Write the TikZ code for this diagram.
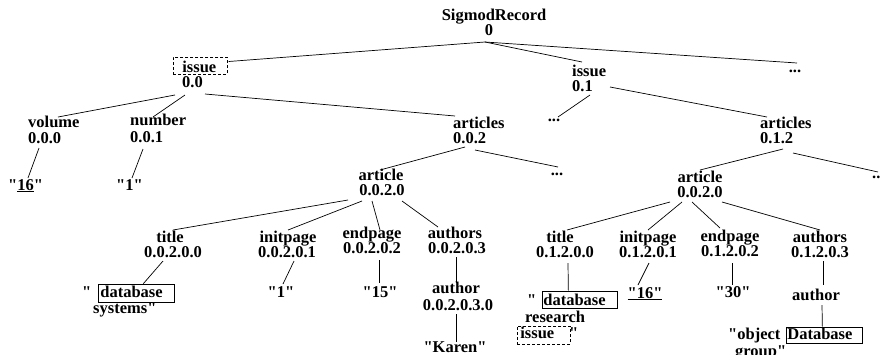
\documentclass[tikz,border=0pt]{standalone}
\usepackage{fontspec}
\setmainfont{Liberation Serif}[Ligatures=TeXOff]
\usetikzlibrary{calc}
\begin{document}
\begin{tikzpicture}[x=1pt,y=-1pt,
  font=\fontsize{16.5}{16}\selectfont\bfseries,
  lbl/.style={inner sep=0pt, anchor=base},
  lblw/.style={inner sep=0pt, anchor=base west},
  edge/.style={draw, line width=0.7pt},
  boxed/.style={draw, line width=0.7pt, anchor=base west},
  dbox/.style={boxed, dash pattern=on 3pt off 2pt}]
\useasboundingbox (0,0) rectangle (880,354);
% level 0
\node[lbl] (root1) at (494,20) {SigmodRecord};
\node[lbl] (root2) at (489,35) {0};
% level 1
\node[dbox, inner xsep=9pt, inner ysep=2pt, text height=13pt, text depth=0pt] (i00a) at (173,72) {\makebox[36pt][l]{issue}};
\node[lblw] (i00b) at (182,87) {0.0};
\node[lblw] (i01a) at (572,76) {issue};
\node[lblw] (i01b) at (572,91) {0.1};
\node[lbl] (dtop) at (795,72) {...};
% level 2
\node[lblw] (vol1) at (28,127) {volume};
\node[lblw] (vol2) at (28,143) {0.0.0};
\node[lblw] (num1) at (130,125) {number};
\node[lblw] (num2) at (130,142) {0.0.1};
\node[lblw] (a002a) at (453,128) {articles};
\node[lblw] (a002b) at (453,143) {0.0.2};
\node[lbl] (d01) at (554,121) {...};
\node[lblw] (a012a) at (760,128) {articles};
\node[lblw] (a012b) at (760,143) {0.1.2};
% level 3
\node[lblw] (v16) at (8,190) {"\underline{16}"};
\node[lbl] (n1) at (129.5,190) {"1"};
\node[lbl] (art1a) at (381,180) {article};
\node[lbl] (art1b) at (382,195) {0.0.2.0};
\node[lbl] (d02) at (557,175) {...};
\node[lbl] (art2a) at (700,182) {article};
\node[lbl] (art2b) at (700,197) {0.0.2.0};
\node[lblw] (d03) at (872,178) {...};
% level 4 left
\node[lbl] (t1a) at (170,242) {title};
\node[lbl] (t1b) at (173,257) {0.0.2.0.0};
\node[lbl] (ip1a) at (288,242) {initpage};
\node[lbl] (ip1b) at (287,257) {0.0.2.0.1};
\node[lbl] (ep1a) at (372,238) {endpage};
\node[lbl] (ep1b) at (372,253) {0.0.2.0.2};
\node[lbl] (au1a) at (455,238) {authors};
\node[lbl] (au1b) at (457,253) {0.0.2.0.3};
% level 5 left
\node[lblw] (q1) at (82,297) {"};
\node[boxed, inner xsep=2pt, inner ysep=2pt, text height=11pt, text depth=3pt] (db1box) at (98,297) {\makebox[72pt][l]{database}};
\node[lblw] (sys1) at (93,313) {systems"};
\node[lbl] (v1) at (281,297) {"1"};
\node[lbl] (v15) at (380,297) {"15"};
\node[lbl] (aut1a) at (456,293) {author};
\node[lbl] (aut1b) at (458,310) {0.0.2.0.3.0};
\node[lbl] (karen) at (455,352) {"Karen"};
% level 4 right
\node[lbl] (t2a) at (560,242) {title};
\node[lbl] (t2b) at (565,257) {0.1.2.0.0};
\node[lbl] (ip2a) at (648,242) {initpage};
\node[lbl] (ip2b) at (648,257) {0.1.2.0.1};
\node[lbl] (ep2a) at (730,241) {endpage};
\node[lbl] (ep2b) at (730,256) {0.1.2.0.2};
\node[lbl] (au2a) at (820,242) {authors};
\node[lbl] (au2b) at (820,257) {0.1.2.0.3};
% level 5 right
\node[lblw] (q2) at (527,305) {"};
\node[boxed, inner xsep=1pt, inner ysep=2pt, text height=12pt, text depth=1pt] (db2box) at (542,305) {\makebox[73pt][l]{database}};
\node[lblw] (res) at (525,322) {research};
\node[dbox, inner xsep=3pt, inner ysep=2pt, text height=10pt, text depth=4pt] (issbox) at (517,338) {\makebox[47pt][l]{issue}};
\node[lblw] (q3) at (569,338) {"};
\node[lbl] (v16r) at (645,298) {\underline{"16"}};
\node[lbl] (v30) at (733,297) {"30"};
\node[lbl] (aut2) at (816,300) {author};
\node[lblw] (objq) at (728,339) {"object};
\node[boxed, inner xsep=1pt, inner ysep=2pt, text height=10pt, text depth=2pt] (objbox) at (786,339) {\makebox[74pt][l]{Database}};
\node[lblw] (grp) at (735,356) {group"};
% edges
\draw[edge] ($(root2.base)+(-4,7)$) -- ($(i00a.east)+(1,-4)$);
\draw[edge] ($(root2.base)+(-4,7)$) -- ($(i01a.base west)+(10,-14)$);
\draw[edge] ($(root2.base)+(-4,7)$) -- ($(dtop.base)+(2,-9)$);
\draw[edge] ($(i00b.base west)+(-7,8)$) -- ($(vol1.base west)+(30,-10)$);
\draw[edge] ($(i00b.base west)+(3,8)$) -- ($(num1.base west)+(23,-8)$);
\draw[edge] ($(i00b.base west)+(23,7)$) -- ($(a002a.base west)+(2,-12)$);
\draw[edge] ($(i01b.base west)+(18,4)$) -- ($(d01.base)+(4,-4)$);
\draw[edge] ($(i01b.base west)+(38,-4)$) -- ($(a012a.base west)+(7,-11)$);
\draw[edge] ($(vol2.base west)+(11,5)$) -- ($(v16.base west)+(20,-12)$);
\draw[edge] ($(num2.base west)+(13,7)$) -- ($(n1.base)+(2.5,-12)$);
\draw[edge] ($(a002b.base west)+(12,4)$) -- ($(art1a.base)+(-1,-10)$);
\draw[edge] ($(a002b.base west)+(22,7)$) -- ($(d02.base)+(1,-8)$);
\draw[edge] ($(a012b.base west)+(23,6)$) -- ($(art2a.base)+(0,-12)$);
\draw[edge] ($(a012b.base west)+(33,10)$) -- ($(d03.base west)+(6,-6)$);
\draw[edge] ($(art1b.base)+(-34,5)$) -- ($(t1a.base)+(3,-12)$);
\draw[edge] ($(art1b.base)+(-20,6)$) -- ($(ip1a.base)+(0,-12)$);
\draw[edge] ($(art1b.base)+(-10,6)$) -- ($(ep1a.base)+(8,-8)$);
\draw[edge] ($(art1b.base)+(20,6)$) -- ($(au1a.base)+(-17,-11)$);
\draw[edge] ($(t1b.base)+(-10,4)$) -- ($(db1box.north)+(7,0)$);
\draw[edge] ($(ip1b.base)+(7,4)$) -- ($(v1.base)+(2,-13)$);
\draw[edge] ($(ep1b.base)+(7,7)$) -- ($(v15.base)+(-1,-14)$);
\draw[edge] ($(au1b.base)+(-1,4)$) -- ($(aut1a.base)+(0,-10)$);
\draw[edge] ($(aut1b.base)+(-2,4)$) -- ($(karen.base)+(1,-10)$);
\draw[edge] ($(art2b.base)+(-30,5)$) -- ($(t2a.base)+(7,-12)$);
\draw[edge] ($(art2b.base)+(-18,5)$) -- ($(ip2a.base)+(0,-12)$);
\draw[edge] ($(art2b.base)+(-8,5)$) -- ($(ep2a.base)+(-10,-13)$);
\draw[edge] ($(art2b.base)+(22,5)$) -- ($(au2a.base)+(0,-12)$);
\draw[edge] ($(t2b.base)+(3,6)$) -- ($(db2box.north)+(-11.5,0)$);
\draw[edge] ($(ip2b.base)+(1,6)$) -- ($(v16r.base)+(-7,-13)$);
\draw[edge] ($(ep2b.base)+(2,7)$) -- ($(v30.base)+(-1,-12)$);
\draw[edge] ($(au2b.base)+(3,4)$) -- ($(aut2.base)+(7,-15)$);
\draw[edge] ($(aut2.base)+(6,5)$) -- ($(objbox.north)+(-2,0)$);
\end{tikzpicture}
\end{document}
